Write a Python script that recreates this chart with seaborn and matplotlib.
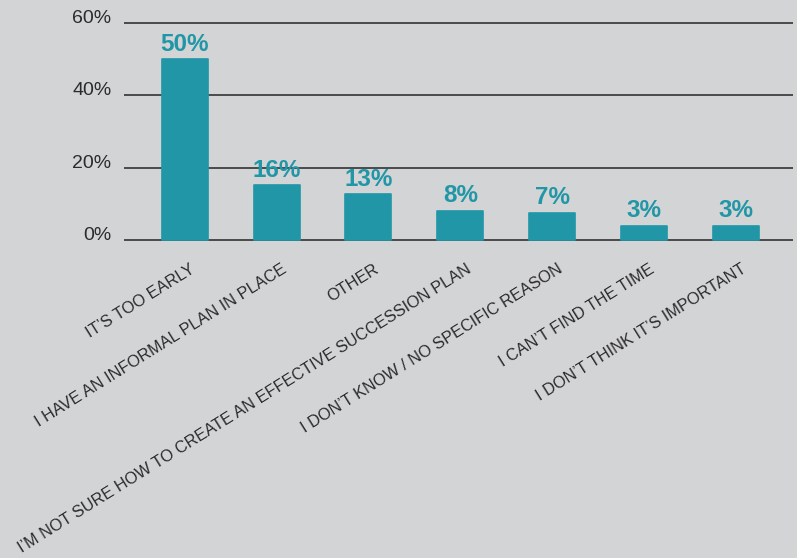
import matplotlib
matplotlib.use("Agg")
import matplotlib.pyplot as plt
import matplotlib.transforms as mtransforms
import seaborn as sns
import pandas as pd

categories = [
    "IT\u2019S TOO EARLY",
    "I HAVE AN INFORMAL PLAN IN PLACE",
    "OTHER",
    "I\u2019M NOT SURE HOW TO CREATE AN EFFECTIVE SUCCESSION PLAN",
    "I DON\u2019T KNOW / NO SPECIFIC REASON",
    "I CAN\u2019T FIND THE TIME",
    "I DON\u2019T THINK IT\u2019S IMPORTANT",
]
values = [50, 15.2, 12.6, 8.1, 7.5, 4.0, 4.0]
value_labels = ["50%", "16%", "13%", "8%", "7%", "3%", "3%"]
y_ticks = [0, 20, 40, 60]
y_tick_labels = ["0%", "20%", "40%", "60%"]

BG = "#d3d4d6"
TEAL = "#2196a6"
TEXT = "#2b2b2b"

sns.set_theme(style="white")
plt.rcParams["font.family"] = ["Liberation Sans", "DejaVu Sans"]

df = pd.DataFrame({"category": categories, "value": values})

fig = plt.figure(figsize=(7.97, 5.58), dpi=100)
fig.patch.set_facecolor(BG)
ax = fig.add_axes([124 / 797, 0.5634, 669 / 797, 0.4022])
ax.set_facecolor(BG)

sns.barplot(data=df, x="category", y="value", color=TEAL, width=0.5,
            saturation=1, ax=ax, zorder=3)
for p in ax.patches:
    p.set_edgecolor(TEAL)
    p.set_linewidth(1.2)
    p.set_joinstyle("round")

ax.set_xlim(-0.66, 6.62)
ax.set_ylim(-1, 61)
ax.set_yticks(y_ticks)
ax.set_yticklabels(y_tick_labels)
for t in ax.get_yticklabels():
    t.set_va("baseline")
    t.set_fontsize(14)
    t.set_color(TEXT)
ax.tick_params(axis="y", length=0, pad=9)
ax.yaxis.grid(True, color="#333333", linewidth=1.2, zorder=1)
ax.xaxis.grid(False)
for s in ax.spines.values():
    s.set_visible(False)

ax.set_xlabel("")
ax.set_ylabel("")
ax.tick_params(axis="x", length=0, pad=13)
ax.set_xticks(range(len(categories)))
ax.set_xticklabels(categories, rotation=32, ha="right", va="top",
                   fontsize=11.7, color=TEXT)
offset = mtransforms.ScaledTranslation(13 / 100, 0, fig.dpi_scale_trans)
for t in ax.get_xticklabels():
    t.set_transform(t.get_transform() + offset)

for i, (v, lab) in enumerate(zip(values, value_labels)):
    ax.annotate(lab, (i, v), xytext=(0, 2.5), textcoords="offset points",
                ha="center", va="bottom", fontsize=17.5, fontweight="bold",
                color=TEAL, family=["Liberation Sans Narrow", "Liberation Sans", "DejaVu Sans"],
                zorder=4)

fig.savefig("out.png", dpi=100, facecolor=BG)
